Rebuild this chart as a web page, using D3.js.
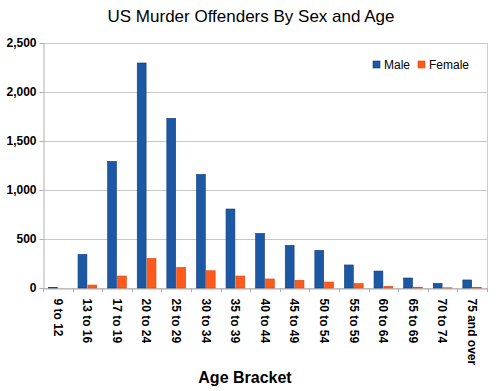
<!DOCTYPE html>
<html>
<head>
<meta charset="utf-8">
<script src="https://cdn.jsdelivr.net/npm/d3@7"></script>
<style>
  body { margin: 0; background: #fff; }
  text { font-family: "Liberation Sans", Arial, sans-serif; }
</style>
</head>
<body>
<div id="main"></div>
<script>
var ageBrackets = ["9 to 12", "13 to 16", "17 to 19", "20 to 24", "25 to 29", "30 to 34",
  "35 to 39", "40 to 44", "45 to 49", "50 to 54", "55 to 59", "60 to 64", "65 to 69",
  "70 to 74", "75 and over"];
var maleValues = [6, 343, 1292, 2296, 1731, 1159, 806, 557, 435, 384, 235, 173, 102, 47, 82];
var femaleValues = [0, 30, 122, 302, 210, 176, 122, 92, 78, 61, 44, 16, 8, 2, 4];
var seriesNames = ["Male", "Female"];
var seriesColors = ["#1c58a4", "#ff5a1c"];
var seriesStrokes = ["#103d78", "#d9430c"];
var yTicks = [0, 500, 1000, 1500, 2000, 2500];

var width = 500, height = 391;
var plotLeft = 43, plotRight = 487, plotTop = 43, plotBottom = 288;

var svg = d3.select("#main").append("svg")
  .attr("width", width)
  .attr("height", height);

var x = d3.scaleBand().domain(ageBrackets).range([plotLeft, plotRight]).padding(0);
var inner = d3.scaleBand().domain(seriesNames).range([0, x.bandwidth()])
  .paddingInner(0).paddingOuter(0.5);
var y = d3.scaleLinear().domain([0, 2500]).range([plotBottom, plotTop]);

// gridlines
svg.append("g").selectAll("line")
  .data(yTicks)
  .enter().append("line")
  .attr("x1", plotLeft).attr("x2", plotRight)
  .attr("y1", function(d) { return Math.round(y(d)) + 0.5; })
  .attr("y2", function(d) { return Math.round(y(d)) + 0.5; })
  .style("stroke", "#c8c8c8");

// right border
svg.append("line")
  .attr("x1", plotRight + 0.5).attr("x2", plotRight + 0.5)
  .attr("y1", plotTop).attr("y2", plotBottom)
  .style("stroke", "#d0d0d0");

// y axis
var yAxis = svg.append("g")
  .attr("transform", "translate(" + (plotLeft + 0.5) + ",0)")
  .call(d3.axisLeft(y).tickValues(yTicks).tickSize(4).tickFormat(d3.format(",")));
yAxis.select(".domain").style("stroke", "#b0b0b0");
yAxis.selectAll(".tick line").style("stroke", "#b0b0b0");
yAxis.selectAll("text")
  .attr("x", -7)
  .style("font-size", "12px")
  .style("font-weight", "bold")
  .style("fill", "#000");

// x axis
var xAxis = svg.append("g")
  .attr("transform", "translate(0," + (plotBottom + 0.5) + ")")
  .call(d3.axisBottom(x).tickSize(0));
xAxis.select(".domain").style("stroke", "#b0b0b0");
xAxis.selectAll("text")
  .attr("transform", "rotate(90)")
  .attr("x", 10).attr("y", 0).attr("dy", "0.35em")
  .style("text-anchor", "start")
  .style("font-size", "12px")
  .style("font-weight", "bold")
  .style("fill", "#000");

// boundary ticks
svg.append("g").selectAll("line")
  .data(ageBrackets.concat(["end"]))
  .enter().append("line")
  .attr("x1", function(d, i) { return Math.round(plotLeft + i * x.step()) + 0.5; })
  .attr("x2", function(d, i) { return Math.round(plotLeft + i * x.step()) + 0.5; })
  .attr("y1", plotBottom).attr("y2", plotBottom + 4)
  .style("stroke", "#b0b0b0");

// bars
var data = ageBrackets.map(function(a, i) {
  return { age: a, values: [maleValues[i], femaleValues[i]] };
});

var groups = svg.append("g").selectAll("g")
  .data(data)
  .enter().append("g")
  .attr("transform", function(d) { return "translate(" + x(d.age) + ",0)"; });

groups.selectAll("rect")
  .data(function(d) {
    return d.values.map(function(v, j) { return { key: seriesNames[j], value: v, j: j }; });
  })
  .enter().append("rect")
  .filter(function(d) { return d.value > 0; })
  .attr("x", function(d) { return inner(d.key) + 0.5; })
  .attr("width", inner.bandwidth() - 1)
  .attr("y", function(d) { return y(d.value); })
  .attr("height", function(d) { return plotBottom - y(d.value); })
  .style("fill", function(d) { return seriesColors[d.j]; })
  .style("stroke", function(d) { return seriesStrokes[d.j]; })
  .style("stroke-width", 0.6);

// title
svg.append("text")
  .attr("x", 251).attr("y", 22)
  .style("text-anchor", "middle")
  .style("font-size", "17px")
  .text("US Murder Offenders By Sex and Age");

// x axis title
svg.append("text")
  .attr("x", 245).attr("y", 383)
  .style("text-anchor", "middle")
  .style("font-size", "16px")
  .style("font-weight", "bold")
  .text("Age Bracket");

// legend
var legendX = [373, 418];
var legend = svg.append("g").selectAll("g")
  .data(seriesNames)
  .enter().append("g")
  .attr("transform", function(d, i) { return "translate(" + legendX[i] + ",61)"; });
legend.append("rect")
  .attr("width", 7).attr("height", 7)
  .style("fill", function(d, i) { return seriesColors[i]; })
  .style("stroke", function(d, i) { return seriesStrokes[i]; })
  .style("stroke-width", 0.6);
legend.append("text")
  .attr("x", 11).attr("y", 8)
  .style("font-size", "12px")
  .text(function(d) { return d; });
</script>
</body>
</html>
